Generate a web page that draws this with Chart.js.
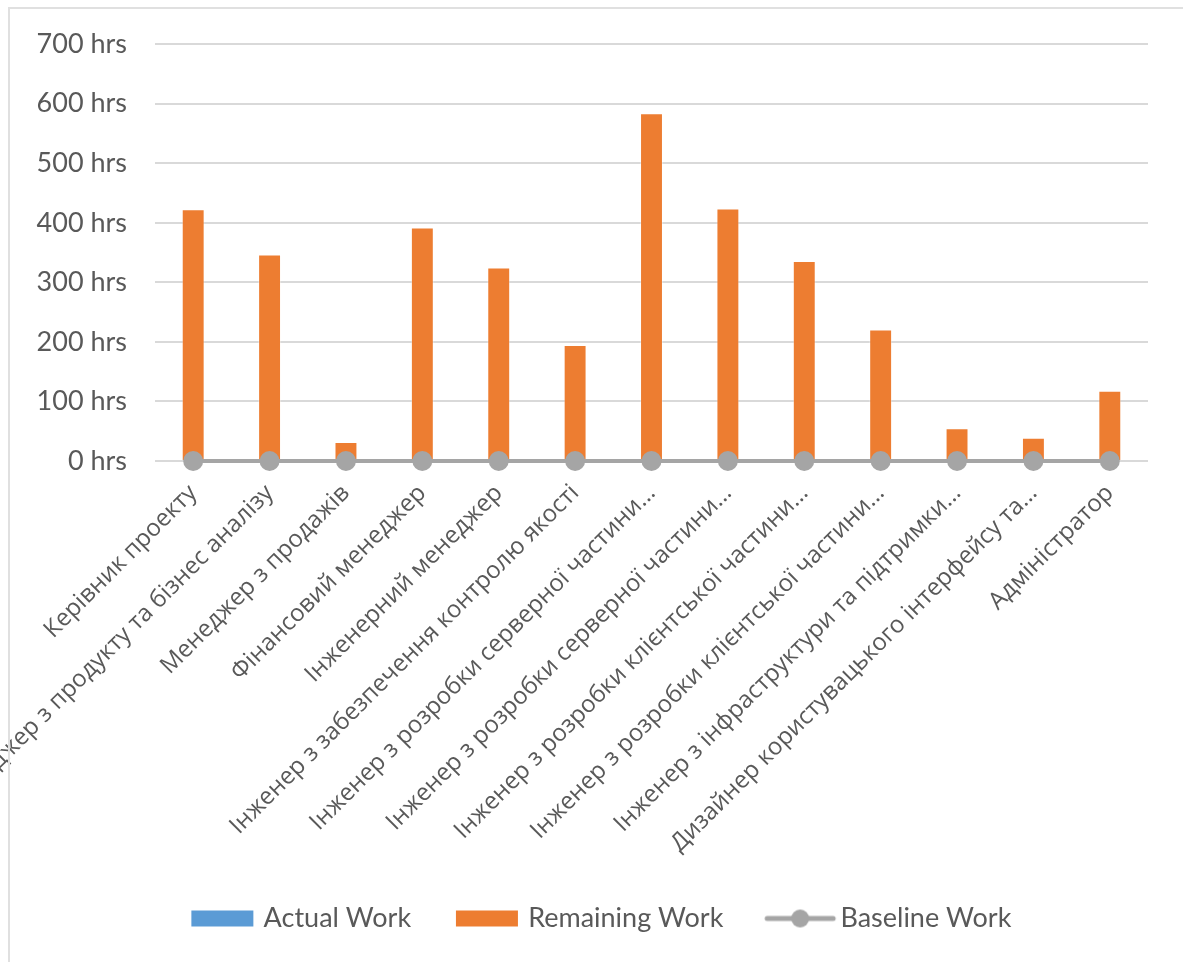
<!DOCTYPE html>
<html>
<head>
<meta charset="utf-8">
<script src="https://cdn.jsdelivr.net/npm/chart.js@4/dist/chart.umd.min.js"></script>
<style>
  html, body { margin: 0; padding: 0; background: #ffffff; }
  #wrap { position: relative; width: 1183px; height: 962px; overflow: hidden; }
  #frame { position: absolute; left: 8px; top: 7px; width: 1200px; height: 1000px;
           border: 2px solid #e0e0e0; box-sizing: border-box; pointer-events: none; }
  canvas { position: absolute; left: 0; top: 0; }
</style>
</head>
<body>
<div id="wrap">
  <canvas id="chart" width="1183" height="962"></canvas>
  <div id="frame"></div>
</div>
<script>
// Roles on the project
const roles = [
  "Керівник проекту",
  "Менеджер з продукту та бізнес аналізу",
  "Менеджер з продажів",
  "Фінансовий менеджер",
  "Інженерний менеджер",
  "Інженер з забезпечення контролю якості",
  "Інженер з розробки серверної частини…",
  "Інженер з розробки серверної частини…",
  "Інженер з розробки клієнтської частини…",
  "Інженер з розробки клієнтської частини…",
  "Інженер з інфраструктури та підтримки…",
  "Дизайнер користувацького інтерфейсу та…",
  "Адміністратор"
];

// Hours per role
const actualWork    = [0, 0, 0, 0, 0, 0, 0, 0, 0, 0, 0, 0, 0];
const remainingWork = [423, 347, 32, 392, 325, 195, 584, 424, 336, 221, 55, 39, 118];
const baselineWork  = [0, 0, 0, 0, 0, 0, 0, 0, 0, 0, 0, 0, 0];

// Value axis
const yTicks = [0, 100, 200, 300, 400, 500, 600, 700];
const hoursUnit = " hrs";

const BLUE = "#5b9bd5", ORANGE = "#ed7d31", GRAY = "#a5a5a5", TEXT = "#595959";
const LEGEND_FONT = 27;

// Legend symbols: filled swatches for the columns, a line with a dot for the baseline
function swatch(color) {
  const c = document.createElement("canvas");
  c.width = 76; c.height = 20;
  const g = c.getContext("2d");
  g.fillStyle = color;
  g.fillRect(7, 2, 62, 16);
  return c;
}
function lineSymbol(color) {
  const c = document.createElement("canvas");
  c.width = 76; c.height = 22;
  const g = c.getContext("2d");
  g.strokeStyle = color; g.lineWidth = 5; g.lineCap = "round";
  g.beginPath(); g.moveTo(6, 11); g.lineTo(72, 11); g.stroke();
  g.fillStyle = color;
  g.beginPath(); g.arc(39, 11, 9, 0, Math.PI * 2); g.fill();
  return c;
}
const legendSymbols = [swatch(BLUE), swatch(ORANGE), lineSymbol(GRAY)];

// The legend is centred under the whole frame rather than the plot area
const legendShift = {
  id: "legendShift",
  afterLayout(chart) { chart.legend.left += 58; }
};

new Chart(document.getElementById("chart"), {
  type: "bar",
  data: {
    labels: roles,
    datasets: [
      {
        label: "Actual Work",
        data: actualWork,
        backgroundColor: BLUE,
        stack: "work",
        order: 1
      },
      {
        label: "Remaining Work",
        data: remainingWork,
        backgroundColor: ORANGE,
        borderColor: "rgba(255,255,255,0.35)",
        borderWidth: 1,
        stack: "work",
        order: 1
      },
      {
        type: "line",
        label: "Baseline Work",
        data: baselineWork,
        borderColor: GRAY,
        borderWidth: 4,
        pointRadius: 10,
        pointHoverRadius: 10,
        pointBackgroundColor: GRAY,
        pointBorderWidth: 0,
        stack: "baseline",
        clip: false,
        order: 0
      }
    ]
  },
  plugins: [legendShift],
  options: {
    responsive: false,
    animation: false,
    events: [],
    layout: { padding: { top: 44, right: 35, left: 0, bottom: 20 } },
    datasets: { bar: { barPercentage: 0.3, categoryPercentage: 1 } },
    scales: {
      x: {
        stacked: true,
        grid: { display: false },
        border: { display: false },
        ticks: {
          autoSkip: false,
          maxRotation: 45,
          minRotation: 45,
          padding: 10,
          color: TEXT,
          font: { family: "'Open Sans', sans-serif", size: 24 }
        },
        afterFit: s => { s.height = 396; }
      },
      y: {
        stacked: true,
        min: yTicks[0],
        max: yTicks[yTicks.length - 1],
        afterBuildTicks: s => { s.ticks = yTicks.map(v => ({ value: v })); },
        grid: { color: "#d9d9d9", lineWidth: 2, drawTicks: false },
        border: { display: false },
        ticks: {
          padding: 28,
          color: TEXT,
          font: { family: "Lato, sans-serif", size: 27 },
          callback: v => v + hoursUnit
        },
        afterFit: s => { s.width = 155; }
      }
    },
    plugins: {
      tooltip: { enabled: false },
      legend: {
        position: "bottom",
        labels: {
          usePointStyle: true,
          pointStyleWidth: 69 - LEGEND_FONT / 2,
          boxHeight: 20,
          padding: 48,
          color: TEXT,
          font: { family: "Lato, sans-serif", size: LEGEND_FONT },
          generateLabels: chart => {
            const items = Chart.defaults.plugins.legend.labels.generateLabels(chart);
            items.sort((a, b) => a.datasetIndex - b.datasetIndex);
            items.forEach(it => { it.pointStyle = legendSymbols[it.datasetIndex]; });
            return items;
          }
        }
      }
    }
  }
});
</script>
</body>
</html>
